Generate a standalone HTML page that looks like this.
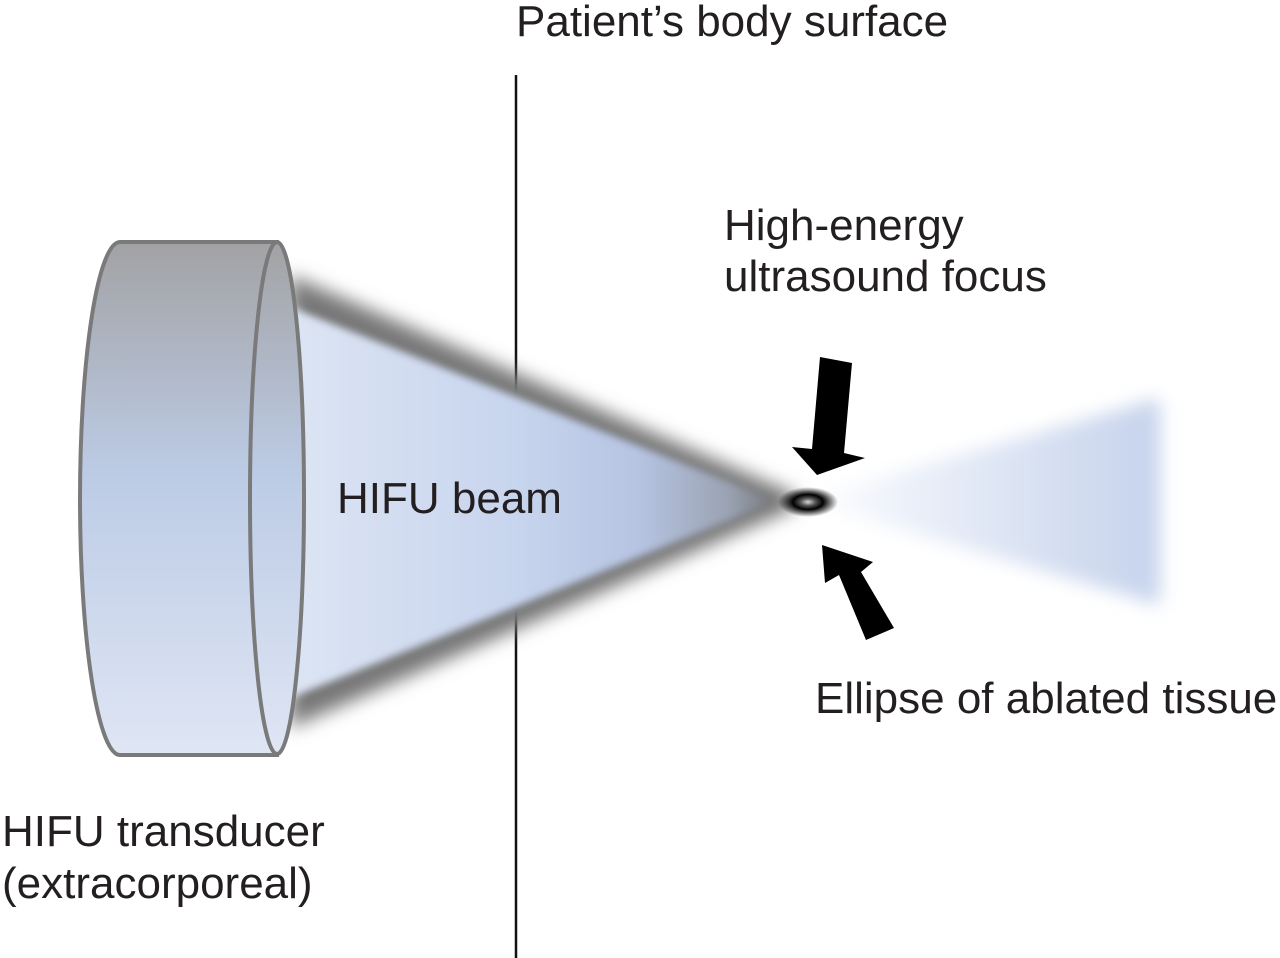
<!DOCTYPE html>
<html><head><style>
html,body{margin:0;padding:0;background:#fff;}
svg{display:block;}
text{font-family:"Liberation Sans",sans-serif;font-size:44px;fill:#231f20;}
</style></head><body>
<svg width="1280" height="958" viewBox="0 0 1280 958" xmlns="http://www.w3.org/2000/svg">
<defs>
<linearGradient id="cyl" x1="0" y1="0" x2="0" y2="1">
<stop offset="0" stop-color="#a2a2a4"/>
<stop offset="0.45" stop-color="#bccbe5"/>
<stop offset="1" stop-color="#dfe6f4"/>
</linearGradient>
<linearGradient id="beam" x1="285" y1="0" x2="790" y2="0" gradientUnits="userSpaceOnUse">
<stop offset="0" stop-color="#dde5f4"/>
<stop offset="0.45" stop-color="#c8d5ee"/>
<stop offset="0.7" stop-color="#b6c4e2"/>
<stop offset="0.88" stop-color="#9aa2b2"/>
<stop offset="1" stop-color="#6a6a6a"/>
</linearGradient>
<linearGradient id="cone" x1="0" y1="0" x2="1" y2="0">
<stop offset="0" stop-color="#ffffff"/>
<stop offset="0.35" stop-color="#e9eef8"/>
<stop offset="1" stop-color="#c6d3ec"/>
</linearGradient>
<radialGradient id="foc" cx="0.5" cy="0.5" r="0.5">
<stop offset="0" stop-color="#d8d8d8"/>
<stop offset="0.25" stop-color="#555"/>
<stop offset="0.5" stop-color="#000"/>
<stop offset="1" stop-color="#000" stop-opacity="0"/>
</radialGradient>
<filter id="blur8" x="-20%" y="-20%" width="140%" height="140%"><feGaussianBlur stdDeviation="9"/></filter>
<filter id="blur4" x="-20%" y="-20%" width="140%" height="140%"><feGaussianBlur stdDeviation="4"/></filter>
</defs>

<line x1="516" y1="75" x2="516" y2="958" stroke="#111" stroke-width="2.5"/>

<polygon points="800,500 1160,398 1160,605" fill="url(#cone)" filter="url(#blur8)"/>

<polygon points="290,275 795,494 795,508 290,728" fill="#777" filter="url(#blur8)"/>
<polygon points="285,305 770,498 770,504 285,700" fill="url(#beam)" filter="url(#blur4)"/>

<path d="M120,242 L277,242 L277,755 L120,755 A40,256.5 0 0 1 120,242 Z" fill="url(#cyl)" stroke="#7a7a7a" stroke-width="4"/>
<ellipse cx="277" cy="498" rx="27" ry="256" fill="url(#cyl)" stroke="#7a7a7a" stroke-width="4"/>

<ellipse cx="808" cy="502" rx="30" ry="15" fill="url(#foc)"/>

<polygon points="820,357 852,363 844,453 865,458 817,475 792,447 812,449" fill="#000"/>
<polygon points="866,640 894,628 861,572 873,562 822,545 825,583 839,575" fill="#000"/>

<text x="516" y="36">Patient’s body surface</text>
<text x="724" y="240">High-energy</text>
<text x="724" y="291">ultrasound focus</text>
<text x="337" y="513">HIFU beam</text>
<text x="815" y="713">Ellipse of ablated tissue</text>
<text x="2" y="846">HIFU transducer</text>
<text x="2" y="898">(extracorporeal)</text>
</svg>
</body></html>
